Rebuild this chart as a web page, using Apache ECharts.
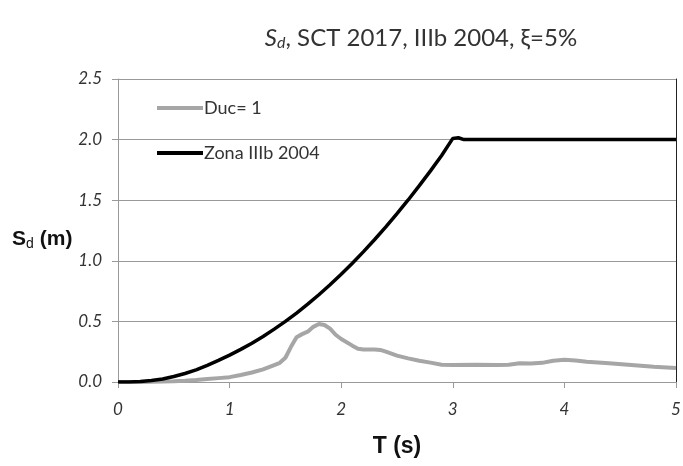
<!DOCTYPE html>
<html>
<head>
<meta charset="utf-8">
<script src="https://cdn.jsdelivr.net/npm/echarts@6/dist/echarts.min.js"></script>
<style>
  html, body { margin: 0; padding: 0; background: #fff; }
  #chart { width: 683px; height: 466px; }
</style>
</head>
<body>
<div id="chart"></div>
<script>
// periods (s) and spectral displacement (m)
var ducT = [0, 0.1, 0.2, 0.3, 0.4, 0.5, 0.6, 0.7, 0.8, 0.9, 1.0, 1.1, 1.2, 1.3, 1.4, 1.45, 1.5, 1.55, 1.6, 1.65,
  1.7, 1.75, 1.8, 1.85, 1.9, 1.95, 2.0, 2.1, 2.15, 2.2, 2.3, 2.35, 2.4, 2.5, 2.6, 2.7, 2.8, 2.9, 3.0, 3.2,
  3.4, 3.5, 3.6, 3.7, 3.8, 3.9, 4.0, 4.1, 4.2, 4.4, 4.6, 4.8, 5.0];
var ducSd = [0, 0, 0, 0.002, 0.004, 0.007, 0.011, 0.016, 0.024, 0.032, 0.04, 0.058, 0.078, 0.104, 0.14, 0.158, 0.2, 0.29, 0.37, 0.395,
  0.415, 0.455, 0.478, 0.47, 0.44, 0.39, 0.355, 0.3, 0.275, 0.268, 0.268, 0.265, 0.25, 0.218, 0.195, 0.175, 0.16, 0.143, 0.14, 0.142,
  0.14, 0.142, 0.155, 0.152, 0.158, 0.176, 0.183, 0.178, 0.168, 0.155, 0.14, 0.125, 0.115];

var zonaT = [0, 0.1, 0.2, 0.3, 0.4, 0.5, 0.6, 0.7, 0.8, 0.9, 1.0, 1.1, 1.2, 1.3, 1.4, 1.5, 1.6, 1.7, 1.8, 1.9,
  2.0, 2.1, 2.2, 2.3, 2.4, 2.5, 2.6, 2.7, 2.8, 2.9, 3.0, 3.05, 3.1, 4.0, 5.0];
var zonaSd = [0, 0.001, 0.004, 0.012, 0.025, 0.045, 0.07, 0.1, 0.138, 0.178, 0.222, 0.269, 0.32, 0.376, 0.436, 0.5, 0.569, 0.642, 0.72, 0.802,
  0.889, 0.98, 1.076, 1.176, 1.28, 1.389, 1.502, 1.62, 1.742, 1.869, 2.01, 2.015, 2.0, 2.0, 2.0];

function pairs(xs, ys) {
  return xs.map(function (x, i) { return [x, ys[i]]; });
}

var font = 'Lato';

var option = {
  animation: false,
  title: {
    text: '{i|S}{sub|d}{n|, SCT 2017, IIIb 2004, ξ=5%}',
    left: 416,
    textAlign: 'center',
    top: 20,
    textStyle: {
      fontWeight: 'normal',
      rich: {
        i: { fontFamily: font, fontStyle: 'italic', fontWeight: 'normal', fontSize: 24, color: '#333' },
        sub: { fontFamily: font, fontStyle: 'italic', fontWeight: 'normal', fontSize: 16, color: '#333', verticalAlign: 'bottom', padding: [10, 0, 0, 0] },
        n: { fontFamily: font, fontWeight: 'normal', fontSize: 24, color: '#333' }
      }
    }
  },
  legend: {
    orient: 'vertical',
    left: 152,
    top: 94,
    itemWidth: 46,
    itemHeight: 4,
    itemGap: 27,
    icon: 'rect',
    textStyle: { fontFamily: font, fontSize: 18, color: '#333', padding: [0, 0, 0, -4] },
    data: ['Duc= 1', 'Zona IIIb 2004']
  },
  grid: { left: 118, right: 7, top: 79, bottom: 84, outerBoundsMode: 'none', containLabel: false },
  xAxis: {
    type: 'value',
    min: 0, max: 5, interval: 1,
    name: 'T (s)',
    nameLocation: 'middle',
    nameGap: 53,
    nameTextStyle: { fontFamily: 'Liberation Sans', fontWeight: 'bold', fontSize: 23, color: '#111' },
    axisLine: { lineStyle: { color: '#999' } },
    axisTick: { length: 6, lineStyle: { color: '#999' } },
    axisLabel: { margin: 19, fontFamily: font, fontStyle: 'italic', fontSize: 17, color: '#333' },
    splitLine: { show: false }
  },
  yAxis: [{
    type: 'value',
    min: 0, max: 2.5, interval: 0.5,
    name: '{b|S}{s|d}{b| (m)}',
    nameLocation: 'middle',
    nameRotate: 0,
    nameGap: 33,
    nameTextStyle: {
      padding: [18, 0, 0, 0],
      rich: {
        b: { fontFamily: 'Liberation Sans', fontWeight: 'bold', fontSize: 21, color: '#111' },
        s: { fontFamily: 'Liberation Sans', fontSize: 14, color: '#111', verticalAlign: 'bottom', padding: [9, 0, 0, 0] }
      }
    },
    axisLine: { show: true, lineStyle: { color: '#999' } },
    axisTick: { show: true, length: 6, lineStyle: { color: '#999' } },
    axisLabel: {
      margin: 16, fontFamily: font, fontStyle: 'italic', fontSize: 17, color: '#333',
      formatter: function (v) { return v.toFixed(1); }
    },
    splitLine: { lineStyle: { color: '#999', width: 1 } }
  }, {
    type: 'value',
    position: 'right',
    min: 0, max: 2.5, interval: 0.5,
    axisLine: { show: true, lineStyle: { color: '#222' } },
    axisTick: { show: false },
    axisLabel: { show: false },
    splitLine: { show: false }
  }],
  series: [
    {
      name: 'Duc= 1',
      type: 'line',
      symbol: 'none',
      color: '#a6a6a6',
      lineStyle: { width: 4, color: '#a6a6a6' },
      data: pairs(ducT, ducSd)
    },
    {
      name: 'Zona IIIb 2004',
      type: 'line',
      symbol: 'none',
      color: '#000',
      lineStyle: { width: 3.5, color: '#000' },
      data: pairs(zonaT, zonaSd)
    }
  ]
};

echarts.init(document.getElementById('chart')).setOption(option);
</script>
</body>
</html>
